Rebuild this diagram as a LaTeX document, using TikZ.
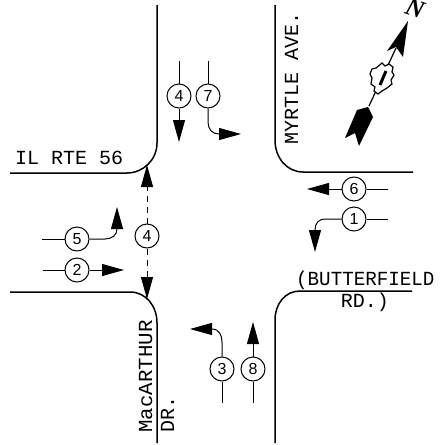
\documentclass[tikz,border=0pt]{standalone}
\usepackage{fontspec}
\setmainfont{Liberation Sans}
\setmonofont{Liberation Mono}
\newfontfamily\northfont{Liberation Serif}
\usetikzlibrary{arrows.meta, positioning, calc}

\begin{document}
\begin{tikzpicture}[
         x=1pt, y=-1pt,
         curb/.style={line width=1.5pt},
         move/.style={line width=1pt, -{Triangle[length=22pt, width=12pt]}},
         stub/.style={line width=1pt},
         phase/.style={circle, draw, line width=1pt, minimum size=24pt, inner sep=0pt, font=\fontsize{16}{16}\selectfont},
         street/.style={font=\ttfamily\fontsize{20}{20}\selectfont, inner sep=0pt}
      ]
         \useasboundingbox (0,0) rectangle (442,445);

         % Curbs
         \draw[curb] (157,5) -- (157,143) .. controls (157,160) and (143,173) .. (127,173) -- (10,173);
         \draw[curb] (10,292) -- (130,292) .. controls (146,292) and (157,306) .. (157,323) -- (157,443);
         \draw[curb] (275,5) -- (275,140) .. controls (275,158) and (287,172) .. (303,172) -- (413,172);
         \draw[curb] (275,443) -- (275,320) .. controls (275,304) and (285,291) .. (300,291) -- (412,291);

         % Phase circles
         \node[phase] (p4n) at (179,96) {4};
         \node[phase] (p7) at (208,96) {7};
         \node[phase] (p4m) at (147,236) {4};
         \node[phase] (p5) at (77,239) {5};
         \node[phase] (p2) at (77,270) {2};
         \node[phase] (p3) at (222,369) {3};
         \node[phase] (p8) at (253,369) {8};
         \node[phase] (p6) at (354,189) {6};
         \node[phase] (p1) at (354,219) {1};

         % Free ends
         \coordinate (p4nin) at (179,61);
         \coordinate (p4nout) at (179,142);
         \coordinate (p7in) at (208,61);
         \coordinate (p7out) at (241,134);
         \coordinate (p4mup) at (147,165);
         \coordinate (p4mdn) at (147,299);
         \coordinate (p5in) at (42,239);
         \coordinate (p5out) at (117,207);
         \coordinate (p2in) at (43,270);
         \coordinate (p2out) at (124,270);
         \coordinate (p3in) at (222,403);
         \coordinate (p3out) at (190,329);
         \coordinate (p8in) at (253,403);
         \coordinate (p8out) at (253,322);
         \coordinate (p6in) at (388,189);
         \coordinate (p6out) at (307,189);
         \coordinate (p1in) at (388,219);
         \coordinate (p1out) at (315,252);

         % Movements
         \draw[stub] (p4nin) -- (p4n);
         \draw[move] (p4n) -- (p4nout);
         \draw[stub] (p7in) -- (p7);
         \draw[move] (p7) -- (208,122) .. controls (208,129) and (212,134) .. (219,134) -- (p7out);
         \draw[move, dash pattern=on 6pt off 5pt] (p4m) -- (p4mup);
         \draw[move, dash pattern=on 6pt off 5pt] (p4m) -- (p4mdn);
         \draw[stub] (p5in) -- (p5);
         \draw[move] (p5) -- (105,239) .. controls (112,239) and (117,235) .. (117,229) -- (p5out);
         \draw[stub] (p2in) -- (p2);
         \draw[move] (p2) -- (p2out);
         \draw[stub] (p3in) -- (p3);
         \draw[move] (p3) -- (222,342) .. controls (222,335) and (219,329) .. (212,329) -- (p3out);
         \draw[stub] (p8in) -- (p8);
         \draw[move] (p8) -- (p8out);
         \draw[stub] (p6in) -- (p6);
         \draw[move] (p6) -- (p6out);
         \draw[stub] (p1in) -- (p1);
         \draw[move] (p1) -- (325,219) .. controls (319,219) and (315,223) .. (315,230) -- (p1out);

         % Street names
         \node[street, anchor=base west] (il) at (15,164) {IL RTE 56};
         \node[street, anchor=base west, rotate=90] (myrtle) at (298,145) {MYRTLE AVE.};
         \node[street, anchor=base west, rotate=90, xscale=1.04] (mac) at (152,433) {MacARTHUR};
         \node[street, anchor=base west, rotate=90] (dr) at (174,433) {DR.};
         \node[street, anchor=base west, xscale=0.96] (butter) at (296,285) {(BUTTERFIELD};
         \node[street, anchor=base] (rd) at (365,307) {RD.)};

         % North arrow
         \draw[line width=1.2pt] (369,106) -- (396,48);
         \fill (408,21) -- (387,51) -- (396,47) -- (403,57) -- cycle;
         \fill (357,110) -- (368,107) -- (373,117) -- (359,146) -- (355,133) -- (345,138) -- cycle;
         \draw[line width=1.2pt, fill=white] (382,63) -- (385,66) -- (389,64) -- (393,67) -- (392,72) -- (394,75) -- (391,80) -- (392,84) -- (387,88) -- (382,91) -- (378,94) -- (374,91) -- (375,87) -- (371,84) -- (372,78) -- (370,74) -- (372,69) -- (376,68) -- cycle;
         \draw[line width=3pt] (386,71) -- (380,85);
         \node[inner sep=0pt, anchor=center, font=\northfont\bfseries\itshape\fontsize{25}{25}\selectfont, rotate=-18] (north) at (415,9) {N};
      \end{tikzpicture}
\end{document}
